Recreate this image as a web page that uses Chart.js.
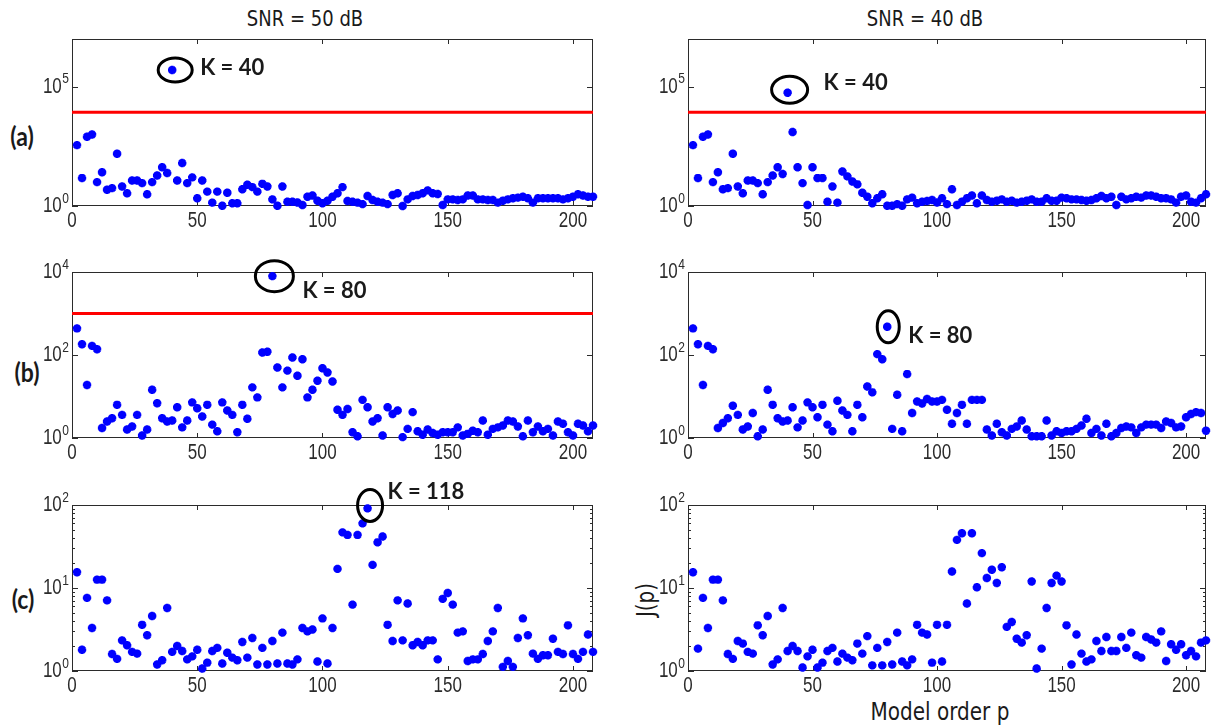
<!DOCTYPE html>
<html>
<head>
<meta charset="utf-8">
<script src="https://cdn.jsdelivr.net/npm/chart.js@4.4.1/dist/chart.umd.min.js"></script>
<style>
  body { margin: 0; background: #fff; width: 1213px; height: 727px; position: relative; overflow: hidden; }
  canvas { position: absolute; }
  .lbl { position: absolute; white-space: nowrap; color: #1a1a1a; }
  .title { font-family: 'DejaVu Sans'; font-size: 18px; transform: translate(-50%, -50%) scaleY(1.2); }
  .axlbl { font-family: 'DejaVu Sans'; font-size: 20px; }
  .row { font-family: Lato; font-weight: bold; font-size: 23px; transform: translate(-50%, -50%) scaleY(1.15); }
</style>
</head>
<body>

<div class="lbl title" style="left:305px; top:18px">SNR = 50 dB</div>
<div class="lbl title" style="left:925px; top:18px">SNR = 40 dB</div>
<div class="lbl row" style="left:22px; top:136px">(a)</div>
<div class="lbl row" style="left:27px; top:372px">(b)</div>
<div class="lbl row" style="left:23px; top:599px">(c)</div>
<div class="lbl axlbl" style="left:646px; top:600px; transform: translate(-50%, -50%) rotate(-90deg) scaleY(1.2)">J(p)</div>
<div class="lbl axlbl" style="left:940px; top:711px; transform: translate(-50%, -50%) scaleY(1.25)">Model order p</div>

<canvas id="a50" width="603" height="225" style="left:0; top:9px"></canvas>
<canvas id="a40" width="597" height="225" style="left:616px; top:9px"></canvas>
<canvas id="b50" width="603" height="224" style="left:0; top:242px"></canvas>
<canvas id="b40" width="597" height="224" style="left:616px; top:242px"></canvas>
<canvas id="c50" width="603" height="224" style="left:0; top:475px"></canvas>
<canvas id="c40" width="597" height="224" style="left:616px; top:475px"></canvas>

<script>
// model orders p (x values of every series)
const orders = [
  2, 4, 6, 8, 10, 12, 14, 16, 18, 20,
  22, 24, 26, 28, 30, 32, 34, 36, 38, 40,
  42, 44, 46, 48, 50, 52, 54, 56, 58, 60,
  62, 64, 66, 68, 70, 72, 74, 76, 78, 80,
  82, 84, 86, 88, 90, 92, 94, 96, 98, 100,
  102, 104, 106, 108, 110, 112, 114, 116, 118, 120,
  122, 124, 126, 128, 130, 132, 134, 136, 138, 140,
  142, 144, 146, 148, 150, 152, 154, 156, 158, 160,
  162, 164, 166, 168, 170, 172, 174, 176, 178, 180,
  182, 184, 186, 188, 190, 192, 194, 196, 198, 200,
  202, 204, 206, 208
];

// J(p), case (a)
const aSnr50 = [
  355, 14.8, 794, 1000, 10, 26, 4.8, 5.6, 155, 6.6,
  3.4, 11.7, 11.7, 9.1, 3.1, 10, 19, 42, 24, 501000,
  11.7, 63, 9.1, 15.8, 2.1, 11.7, 4.0, 1.38, 4.0, 1.02,
  3.6, 1.3, 1.3, 5.0, 7.8, 6.2, 4.0, 8.5, 6.6, 1.9,
  1.02, 6.6, 1.5, 1.5, 1.4, 1.1, 2.45, 2.75, 1.66, 1.3,
  1.66, 2.45, 3.4, 6.2, 1.62, 1.5, 1.38, 1.2, 2.63, 1.78,
  1.5, 1.38, 1.2, 2.9, 3.4, 1.0, 1.9, 2.63, 2.9, 3.4,
  4.5, 3.4, 3.2, 1.1, 1.9, 1.9, 1.78, 1.9, 2.75, 2.75,
  1.9, 1.9, 1.78, 1.78, 1.38, 1.66, 1.9, 2.1, 2.24, 2.45,
  2.1, 1.38, 2.1, 2.1, 2.1, 2.1, 2.1, 1.9, 2.1, 2.45,
  3.1, 2.75, 2.45, 2.45
];
const aSnr40 = [
  355, 14.8, 794, 1000, 10, 26, 5.0, 5.6, 155, 6.6,
  3.4, 11.7, 11.7, 9.1, 3.1, 10, 19, 42, 22, 56000,
  1260, 42, 9.1, 1.1, 42, 14.8, 14.8, 1.5, 6.6, 1.38,
  28, 17.4, 10.7, 8.1, 3.6, 2.45, 1.3, 2.1, 3.1, 1.02,
  1.02, 1.2, 1.02, 1.9, 2.24, 1.3, 1.5, 1.62, 1.78, 1.4,
  2.1, 1.2, 5.0, 1.1, 1.5, 2.1, 2.75, 1.3, 2.75, 1.78,
  1.5, 1.66, 1.9, 1.5, 1.66, 1.38, 1.5, 1.66, 1.9, 1.5,
  1.5, 2.1, 1.66, 1.66, 2.24, 2.1, 1.9, 1.9, 1.78, 1.66,
  1.78, 2.1, 2.63, 2.1, 2.45, 1.1, 2.45, 1.9, 2.1, 2.45,
  2.24, 2.75, 2.75, 2.45, 2.1, 2.1, 1.9, 1.38, 2.45, 2.75,
  1.5, 1.38, 2.1, 3.1
];

// J(p), case (b)
const bSnr50 = [
  437, 182, 19, 166, 138, 1.74, 2.5, 3.0, 6.3, 3.6,
  1.6, 1.9, 3.6, 1.15, 1.6, 14.5, 6.9, 3.0, 2.5, 2.63,
  5.5, 1.8, 2.63, 7.2, 5.2, 3.3, 6.3, 2.1, 1.45, 7.2,
  4.6, 3.6, 1.38, 6.3, 2.9, 16.6, 9.5, 115, 120, 7940,
  50, 16.6, 42, 87, 31.6, 79, 9.5, 14.5, 24, 48,
  38, 23, 4.8, 3.6, 5.0, 1.38, 1.1, 8.3, 5.5, 2.5,
  3.0, 1.15, 5.5, 3.8, 4.6, 1.05, 1.66, 4.2, 1.45, 1.2,
  1.6, 1.32, 1.2, 1.38, 1.38, 1.38, 1.8, 1.15, 1.26, 1.5,
  1.38, 2.63, 1.2, 1.66, 1.8, 2.0, 2.63, 2.5, 1.9, 1.1,
  2.63, 1.38, 1.9, 1.45, 1.66, 1.15, 2.5, 2.2, 1.38, 1.15,
  2.2, 2.0, 1.45, 2.0
];
const bSnr40 = [
  437, 182, 19, 166, 138, 1.74, 2.3, 3.0, 6.0, 3.6,
  1.6, 1.9, 4.0, 1.1, 1.6, 14.5, 6.3, 3.0, 2.5, 2.63,
  5.5, 1.8, 2.63, 7.2, 5.5, 3.16, 6.3, 2.1, 1.45, 7.9,
  4.6, 3.6, 1.45, 6.3, 3.16, 17.4, 12.6, 105, 79, 479,
  1.66, 11, 1.45, 34.7, 4.0, 7.6, 6.8, 8.7, 7.6, 7.6,
  8.3, 4.8, 2.2, 4.0, 6.3, 2.2, 8.3, 8.3, 8.3, 1.6,
  1.15, 2.2, 1.38, 1.15, 1.66, 1.9, 2.63, 1.6, 1.1, 1.1,
  1.1, 2.63, 1.15, 1.45, 1.32, 1.45, 1.45, 1.66, 2.0, 2.9,
  1.32, 1.66, 1.15, 2.2, 1.1, 1.32, 1.74, 1.9, 1.8, 1.32,
  1.8, 2.1, 2.1, 2.1, 1.74, 2.5, 2.3, 1.8, 1.9, 3.16,
  3.8, 4.2, 4.0, 1.5
];

// J(p), case (c)
const cSnr50 = [
  15.5, 1.8, 7.6, 3.3, 12.6, 12.6, 7.1, 1.6, 1.4, 2.34,
  2.04, 1.7, 1.62, 3.6, 2.7, 4.6, 1.2, 1.35, 5.75, 1.7,
  2.0, 1.74, 1.38, 1.5, 1.8, 1.07, 1.26, 1.74, 1.9, 1.23,
  1.66, 1.45, 1.35, 2.24, 1.45, 2.5, 1.2, 1.9, 1.2, 2.3,
  1.23, 2.9, 1.23, 1.2, 1.38, 3.3, 3.0, 3.16, 1.3, 4.3,
  1.23, 3.3, 17, 46.8, 43.6, 6.3, 43.6, 60, 91, 19,
  35.5, 41.7, 3.6, 2.3, 7.1, 2.34, 6.5, 2.04, 2.24, 2.04,
  2.34, 2.34, 1.38, 7.4, 8.7, 6.3, 2.9, 3.0, 1.32, 1.38,
  1.38, 1.6, 2.3, 3.0, 5.75, 1.12, 1.32, 1.12, 2.5, 4.3,
  2.7, 1.62, 1.4, 1.55, 1.55, 2.45, 1.7, 1.6, 3.55, 1.6,
  1.4, 1.7, 2.75, 1.7
];
const cSnr40 = [
  15.5, 1.86, 7.6, 3.3, 12.6, 12.6, 7.1, 1.6, 1.4, 2.3,
  2.14, 1.7, 1.62, 3.55, 2.7, 4.6, 1.2, 1.38, 5.75, 1.74,
  2.0, 1.74, 1.1, 1.5, 1.8, 1.1, 1.26, 1.74, 1.9, 1.3,
  1.62, 1.45, 1.35, 2.14, 1.62, 2.63, 1.17, 1.9, 1.17, 2.24,
  1.2, 2.9, 1.3, 1.17, 1.38, 3.6, 2.9, 2.75, 1.26, 3.6,
  1.3, 3.6, 15.8, 38, 45.7, 6.5, 45.7, 10.2, 26.3, 13.2,
  16.6, 11.5, 17.8, 3.4, 3.9, 2.45, 2.2, 2.7, 12, 1.07,
  1.86, 5.75, 11.5, 14.1, 12, 3.55, 1.2, 2.75, 1.62, 1.3,
  1.38, 2.3, 1.74, 2.57, 1.74, 1.74, 2.57, 1.9, 2.9, 1.55,
  1.45, 2.57, 2.4, 2.2, 3.0, 1.32, 2.1, 1.8, 2.1, 1.55,
  1.74, 1.5, 2.2, 2.34
];

// detection thresholds (red lines)
const aThreshold = 8500;
const bThreshold = 1000;

// axes
const xTicks = [0, 50, 100, 150, 200];
const xMax = 208;
const aTicks = [1, 1e5];
const bTicks = [1, 1e2, 1e4];
const cTicks = [1, 10, 100];
const cMinor = [2, 3, 4, 5, 6, 7, 8, 9, 20, 30, 40, 50, 60, 70, 80, 90];

const BLUE = '#0000ff';
const RED = '#ff0000';
const INK = '#2b2b2b';

// draws the MATLAB-like box, inward ticks, tick labels and the peak marker
const framePlugin = {
  id: 'frame',
  beforeDatasetsDraw(chart, args, o) {
    const { ctx, chartArea: a, scales: { x, y } } = chart;
    ctx.save();
    ctx.strokeStyle = INK;
    ctx.lineWidth = 1;
    ctx.strokeRect(a.left + 0.5, a.top + 0.5, a.right - a.left - 1, a.bottom - a.top - 1);
    ctx.beginPath();
    xTicks.forEach(v => {
      const px = Math.round(x.getPixelForValue(v)) + 0.5;
      ctx.moveTo(px, a.bottom); ctx.lineTo(px, a.bottom - 5);
      ctx.moveTo(px, a.top); ctx.lineTo(px, a.top + 5);
    });
    o.yTicks.forEach(v => {
      const py = Math.round(y.getPixelForValue(v)) + 0.5;
      ctx.moveTo(a.left, py); ctx.lineTo(a.left + 6, py);
      ctx.moveTo(a.right, py); ctx.lineTo(a.right - 6, py);
    });
    (o.minor || []).forEach(v => {
      const py = Math.round(y.getPixelForValue(v)) + 0.5;
      ctx.moveTo(a.left, py); ctx.lineTo(a.left + 3, py);
      ctx.moveTo(a.right, py); ctx.lineTo(a.right - 3, py);
    });
    ctx.stroke();

    ctx.fillStyle = INK;
    ctx.textBaseline = 'middle';
    xTicks.forEach(v => {
      ctx.save();
      ctx.translate(x.getPixelForValue(v), a.bottom + 15);
      ctx.scale(1, 1.25);
      ctx.font = '17px "Liberation Sans"';
      ctx.textAlign = 'center';
      ctx.fillText(String(v), 0, 0);
      ctx.restore();
    });
    o.yTicks.forEach(v => {
      const py = y.getPixelForValue(v);
      const exp = String(Math.round(Math.log10(v)));
      ctx.save();
      ctx.textAlign = 'right';
      ctx.font = '12px "Liberation Sans"';
      const w = ctx.measureText(exp).width;
      ctx.translate(a.left - 3, py);
      ctx.scale(1, 1.25);
      ctx.fillText(exp, 0, -6);
      ctx.font = '17px "Liberation Sans"';
      ctx.fillText('10', -w - 0.5, 0.5);
      ctx.restore();
    });
    ctx.restore();
  },
  afterDatasetsDraw(chart, args, o) {
    if (!o.mark) return;
    const { ctx, scales: { x, y } } = chart;
    const vals = o.values;
    const k = vals.indexOf(Math.max(...vals));
    const px = x.getPixelForValue(orders[k]);
    const py = y.getPixelForValue(vals[k]);
    const m = o.mark;
    ctx.save();
    ctx.strokeStyle = '#000';
    ctx.lineWidth = 3;
    ctx.beginPath();
    ctx.ellipse(px + m.ex, py + m.ey, m.rx, m.ry, 0, 0, Math.PI * 2);
    ctx.stroke();
    ctx.fillStyle = '#1a1a1a';
    ctx.font = 'bold 22px Lato';
    ctx.textAlign = 'left';
    ctx.textBaseline = 'middle';
    ctx.fillText('K = ' + orders[k], px + m.tx, py + m.ty);
    ctx.restore();
  }
};

const makePanel = (id, values, yMax, yTicks, opts) => {
  const datasets = [{
    data: orders.map((p, i) => ({ x: p, y: values[i] })),
    pointStyle: 'star',
    pointRadius: 4.2,
    pointBorderWidth: 2.8,
    borderColor: BLUE,
    backgroundColor: BLUE,
    showLine: false,
    clip: false
  }];
  if (opts.threshold) {
    datasets.push({
      data: [{ x: 0, y: opts.threshold }, { x: xMax, y: opts.threshold }],
      borderColor: RED,
      borderWidth: 3,
      pointRadius: 0,
      showLine: true
    });
  }
  return new Chart(document.getElementById(id), {
    type: 'scatter',
    data: { datasets },
    options: {
      responsive: false,
      animation: false,
      devicePixelRatio: 1,
      layout: { padding: { left: 0, top: 30, right: opts.padRight, bottom: 0 } },
      plugins: {
        legend: { display: false },
        tooltip: { enabled: false },
        frame: { yTicks, minor: opts.minor, mark: opts.mark, values }
      },
      scales: {
        x: {
          type: 'linear', min: 0, max: xMax,
          ticks: { display: false },
          grid: { display: false },
          border: { display: false },
          afterBuildTicks: s => { s.ticks = xTicks.map(v => ({ value: v })); },
          afterFit: s => { s.height = 28; }
        },
        y: {
          type: 'logarithmic', min: 1, max: yMax,
          ticks: { display: false },
          grid: { display: false },
          border: { display: false },
          afterBuildTicks: s => { s.ticks = yTicks.map(v => ({ value: v })); },
          afterFit: s => { s.width = 72; }
        }
      }
    },
    plugins: [framePlugin]
  });
};

makePanel('a50', aSnr50, 1e7, aTicks, { padRight: 10, threshold: aThreshold,
  mark: { ex: 3, ey: 0, rx: 17, ry: 12, tx: 28, ty: -2 } });
makePanel('a40', aSnr40, 1e7, aTicks, { padRight: 5, threshold: aThreshold,
  mark: { ex: 2, ey: -3, rx: 18, ry: 13.5, tx: 36, ty: -10 } });
makePanel('b50', bSnr50, 1e4, bTicks, { padRight: 10, threshold: bThreshold,
  mark: { ex: 2, ey: 0, rx: 19, ry: 15.5, tx: 30, ty: 15 } });
makePanel('b40', bSnr40, 1e4, bTicks, { padRight: 5,
  mark: { ex: 1, ey: 0, rx: 11, ry: 16, tx: 21, ty: 9 } });
makePanel('c50', cSnr50, 1e2, cTicks, { padRight: 10, minor: cMinor,
  mark: { ex: 2.5, ey: -3, rx: 12.5, ry: 16, tx: 20, ty: -16 } });
makePanel('c40', cSnr40, 1e2, cTicks, { padRight: 5, minor: cMinor });
</script>
</body>
</html>
